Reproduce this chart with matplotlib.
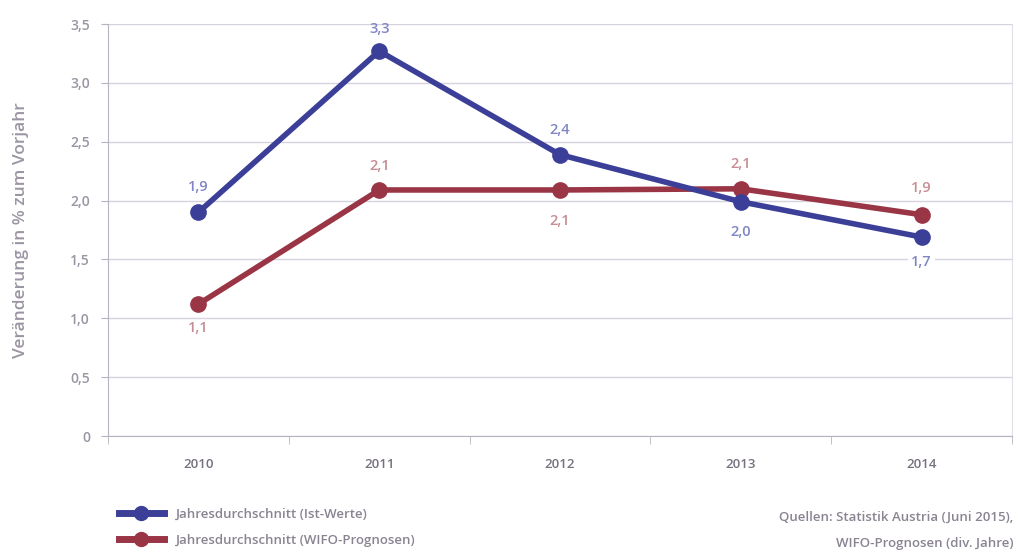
import matplotlib
matplotlib.use("Agg")
from matplotlib import pyplot as plt
from matplotlib.lines import Line2D

YEARS = ["2010", "2011", "2012", "2013", "2014"]
IST = [1.9, 3.27, 2.39, 1.99, 1.69]
IST_LABELS = ["1,9", "3,3", "2,4", "2,0", "1,7"]
WIFO = [1.12, 2.09, 2.09, 2.1, 1.88]
WIFO_LABELS = ["1,1", "2,1", "2,1", "2,1", "1,9"]
YTICKS = [0, 0.5, 1.0, 1.5, 2.0, 2.5, 3.0, 3.5]
YTICK_LABELS = ["0", "0,5", "1,0", "1,5", "2,0", "2,5", "3,0", "3,5"]

BLUE = "#3b3f98"
RED = "#9a3546"
BLUE_TXT = "#8086c4"
RED_TXT = "#c58d95"
GREY = "#9b95a3"
GRID = "#d6d3de"

plt.rcParams["font.family"] = ["Open Sans", "DejaVu Sans"]

fig = plt.figure(figsize=(10.17, 5.51), dpi=100)
ax = fig.add_axes([108 / 1017, 115 / 551, 904 / 1017, 412 / 551])

x = list(range(len(YEARS)))
ax.plot(x, WIFO, color=RED, lw=4, marker="o", ms=11, zorder=3)
ax.plot(x, IST, color=BLUE, lw=4, marker="o", ms=11, zorder=4)

# value labels (above / below the points as in the original)
ist_off = [18, 16, 18, -22, -18]
wifo_off = [-17, 17, -22, 18, 19]
for i in x:
    ax.annotate(IST_LABELS[i], (i, IST[i]), xytext=(0, ist_off[i]), textcoords="offset points",
                ha="center", va="center", color=BLUE_TXT, fontsize=10.5, fontweight="semibold",
                bbox=dict(boxstyle="square,pad=0.2", fc="white", ec="none") if i == 4 else None,
                zorder=5)
    ax.annotate(WIFO_LABELS[i], (i, WIFO[i]), xytext=(0, wifo_off[i]), textcoords="offset points",
                ha="center", va="center", color=RED_TXT, fontsize=10.5, fontweight="semibold", zorder=5)

ax.set_xlim(-0.5, 4.5)
ax.set_ylim(0, 3.5)
ax.set_yticks(YTICKS)
ax.set_yticklabels(YTICK_LABELS)
ax.set_xticks(x)
ax.set_xticklabels(YEARS)
ax.set_xticks([i + 0.5 for i in range(-1, 5)], minor=True)
ax.tick_params(axis="x", which="major", length=0, pad=16, labelcolor="#77717f", labelsize=9.5)
ax.tick_params(axis="x", which="minor", length=6, color="#b8b3c2", direction="out")
ax.tick_params(axis="y", length=5, color="#b8b3c2", labelcolor=GREY, labelsize=10, pad=8)
for t in ax.get_xticklabels() + ax.get_yticklabels():
    t.set_fontweight("semibold")

ax.grid(axis="y", color=GRID, lw=1)
ax.set_axisbelow(True)
ax.spines["top"].set_visible(False)
ax.spines["left"].set_color("#b8b3c2")
ax.spines["bottom"].set_color("#b8b3c2")
ax.spines["right"].set_color("#e2e0e6")

ax.set_ylabel("Veränderung in % zum Vorjahr", color=GREY, fontsize=12.5,
              fontweight="semibold", labelpad=30)

# legend at the bottom left
handles = [Line2D([], [], color=BLUE, lw=5, marker="o", ms=10),
           Line2D([], [], color=RED, lw=5, marker="o", ms=10)]
fig.legend(handles, ["Jahresdurchschnitt (Ist-Werte)", "Jahresdurchschnitt (WIFO-Prognosen)"],
           loc="upper left", bbox_to_anchor=(107 / 1017, 1 - 496 / 551), frameon=False,
           handlelength=3.4, handletextpad=0.9, labelspacing=1.0, labelcolor="#8a8492",
           prop={"weight": "semibold", "size": 9.5})

fig.text(1013 / 1017, 1 - 517 / 551, "Quellen: Statistik Austria (Juni 2015),", ha="right",
         va="center", color="#8a8492", fontsize=9.5, fontweight="semibold")
fig.text(1013 / 1017, 1 - 543 / 551, "WIFO-Prognosen (div. Jahre)", ha="right",
         va="center", color="#8a8492", fontsize=9.5, fontweight="semibold")

fig.savefig("out.png", dpi=100)
